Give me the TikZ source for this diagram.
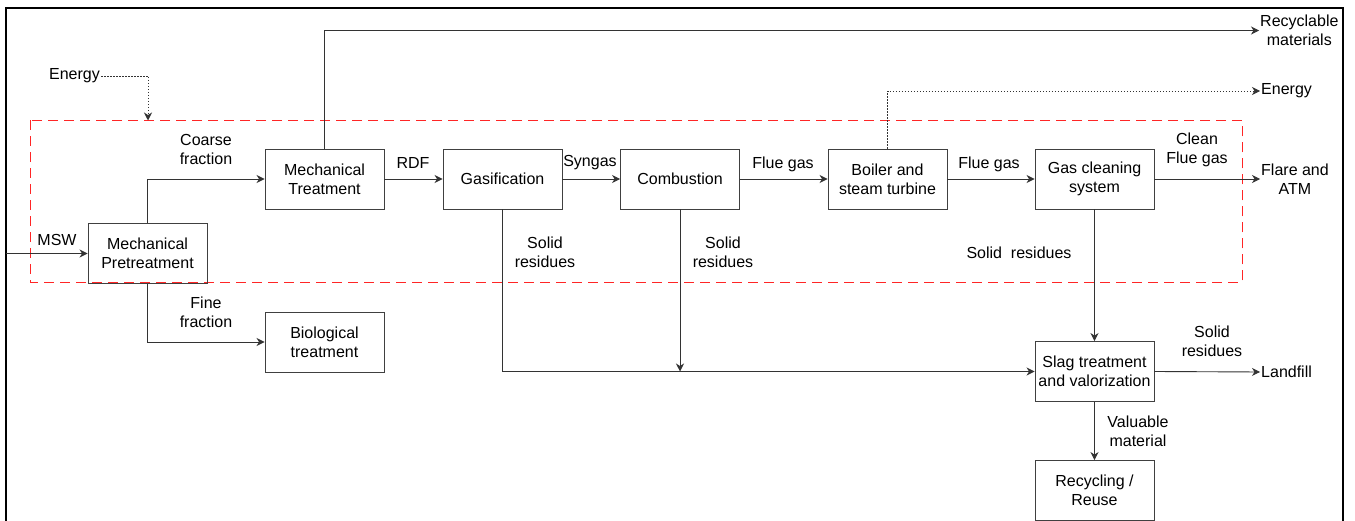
\documentclass[tikz,border=0pt]{standalone}
\usepackage{fontspec}
\setmainfont{Liberation Sans}
\usetikzlibrary{arrows.meta}
\newcommand{\flowfont}{\fontsize{16}{19}\selectfont}
\tikzset{
    % process boxes
    procbox/.style={
        draw=black!75,
        line width=0.9pt,
        minimum width=119pt,
        minimum height=60pt,
        inner sep=0pt,
        align=center,
        font=\flowfont
    },
    % plain labels
    flowlabel/.style={
        align=center,
        inner sep=1pt,
        font=\flowfont
    },
    % main arrows
    flowarrow/.style={
        line width=0.9pt,
        black!80,
        ->,
        >={Stealth[length=8pt, width=8pt, inset=2.5pt]}
    },
    % energy arrows
    energyarrow/.style={
        flowarrow,
        dash pattern=on 1.5pt off 1.5pt
    }
}

\begin{document}
\begin{tikzpicture}[x=1pt,y=-1pt]
	\useasboundingbox (0,0) rectangle (1355,521);
	
	% outer frame
	\draw[line width=2pt] (6,521) -- (6,8) -- (1343,8) -- (1343,521);
	
	% red dashed system boundary
	\draw[red!85,line width=1pt,dash pattern=on 10pt off 6pt] (30,120.5) rectangle (1242,282.5);
	
	% process boxes
	\node[procbox] (pre) at (147.5,253.5) {Mechanical\\Pretreatment};
	\node[procbox] (mech) at (324.5,179) {Mechanical\\Treatment};
	\node[procbox] (bio) at (324.5,342) {Biological\\treatment};
	\node[procbox] (gas) at (502.5,179) {Gasification};
	\node[procbox] (comb) at (680,179) {Combustion};
	\node[procbox] (boil) at (887.5,179) {Boiler and\\steam turbine};
	\node[procbox] (clean) at (1094.5,179) {Gas cleaning\\system};
	\node[procbox] (slag) at (1094.5,371.5) {Slag treatment\\and valorization};
	\node[procbox] (recy) at (1094.5,490.5) {Recycling /\\Reuse};
	
	% outputs
	\node[flowlabel,anchor=west] (recmat) at (1259,30.5) {Recyclable\\materials};
	\node[flowlabel,anchor=west] (enout) at (1260,91) {Energy};
	\node[flowlabel,anchor=west] (flare) at (1260,179.5) {Flare and\\ATM};
	\node[flowlabel,anchor=west] (landfill) at (1260,372) {Landfill};
	\node[flowlabel,anchor=east] (enin) at (101,76) {Energy};
	\coordinate (mswin) at (6,253.5);
	\coordinate (eninto) at (148,120.5);
	\coordinate (merge) at (680,371.5);
	
	% flows
	\draw[flowarrow] (mswin) -- (pre.west);
	\draw[flowarrow] (pre.north) |- (mech.west);
	\draw[flowarrow] (pre.south) |- (bio.west);
	\draw[flowarrow] (mech.north) |- (recmat.west);
	\draw[flowarrow] (mech) -- (gas);
	\draw[flowarrow] (gas) -- (comb);
	\draw[flowarrow] (comb) -- (boil);
	\draw[flowarrow] (boil) -- (clean);
	\draw[flowarrow] (clean.east) -- (flare.west |- clean.east);
	\draw[flowarrow] (gas.south) |- (slag.west);
	\draw[flowarrow] (comb.south) -- (merge);
	\draw[flowarrow] (clean) -- (slag);
	\draw[flowarrow] (slag.east) -- (landfill.west);
	\draw[flowarrow] (slag) -- (recy);
	
	% energy
	\draw[energyarrow] (enin.east) -| (eninto);
	\draw[energyarrow] (boil.north) |- (enout.west);
	
	% labels
	\node[flowlabel] (lmsw) at (57,240) {MSW};
	\node[flowlabel] (lcoarse) at (206,149.5) {Coarse\\fraction};
	\node[flowlabel] (lfine) at (206,312.5) {Fine\\fraction};
	\node[flowlabel] (lrdf) at (413,163) {RDF};
	\node[flowlabel] (lsyn) at (590,163) {Syngas};
	\node[flowlabel] (lflue1) at (783,164) {Flue gas};
	\node[flowlabel] (lflue2) at (989,164) {Flue gas};
	\node[flowlabel] (lcleanflue) at (1197,149.5) {Clean\\Flue gas};
	\node[flowlabel] (lsolid1) at (545,252.5) {Solid\\residues};
	\node[flowlabel] (lsolid2) at (723,252.5) {Solid\\residues};
	\node[flowlabel] (lsolid3) at (1019,253) {Solid\ \ residues};
	\node[flowlabel] (lsolid4) at (1212,341.5) {Solid\\residues};
	\node[flowlabel] (lvalue) at (1138,431.5) {Valuable\\material};
\end{tikzpicture}
\end{document}
